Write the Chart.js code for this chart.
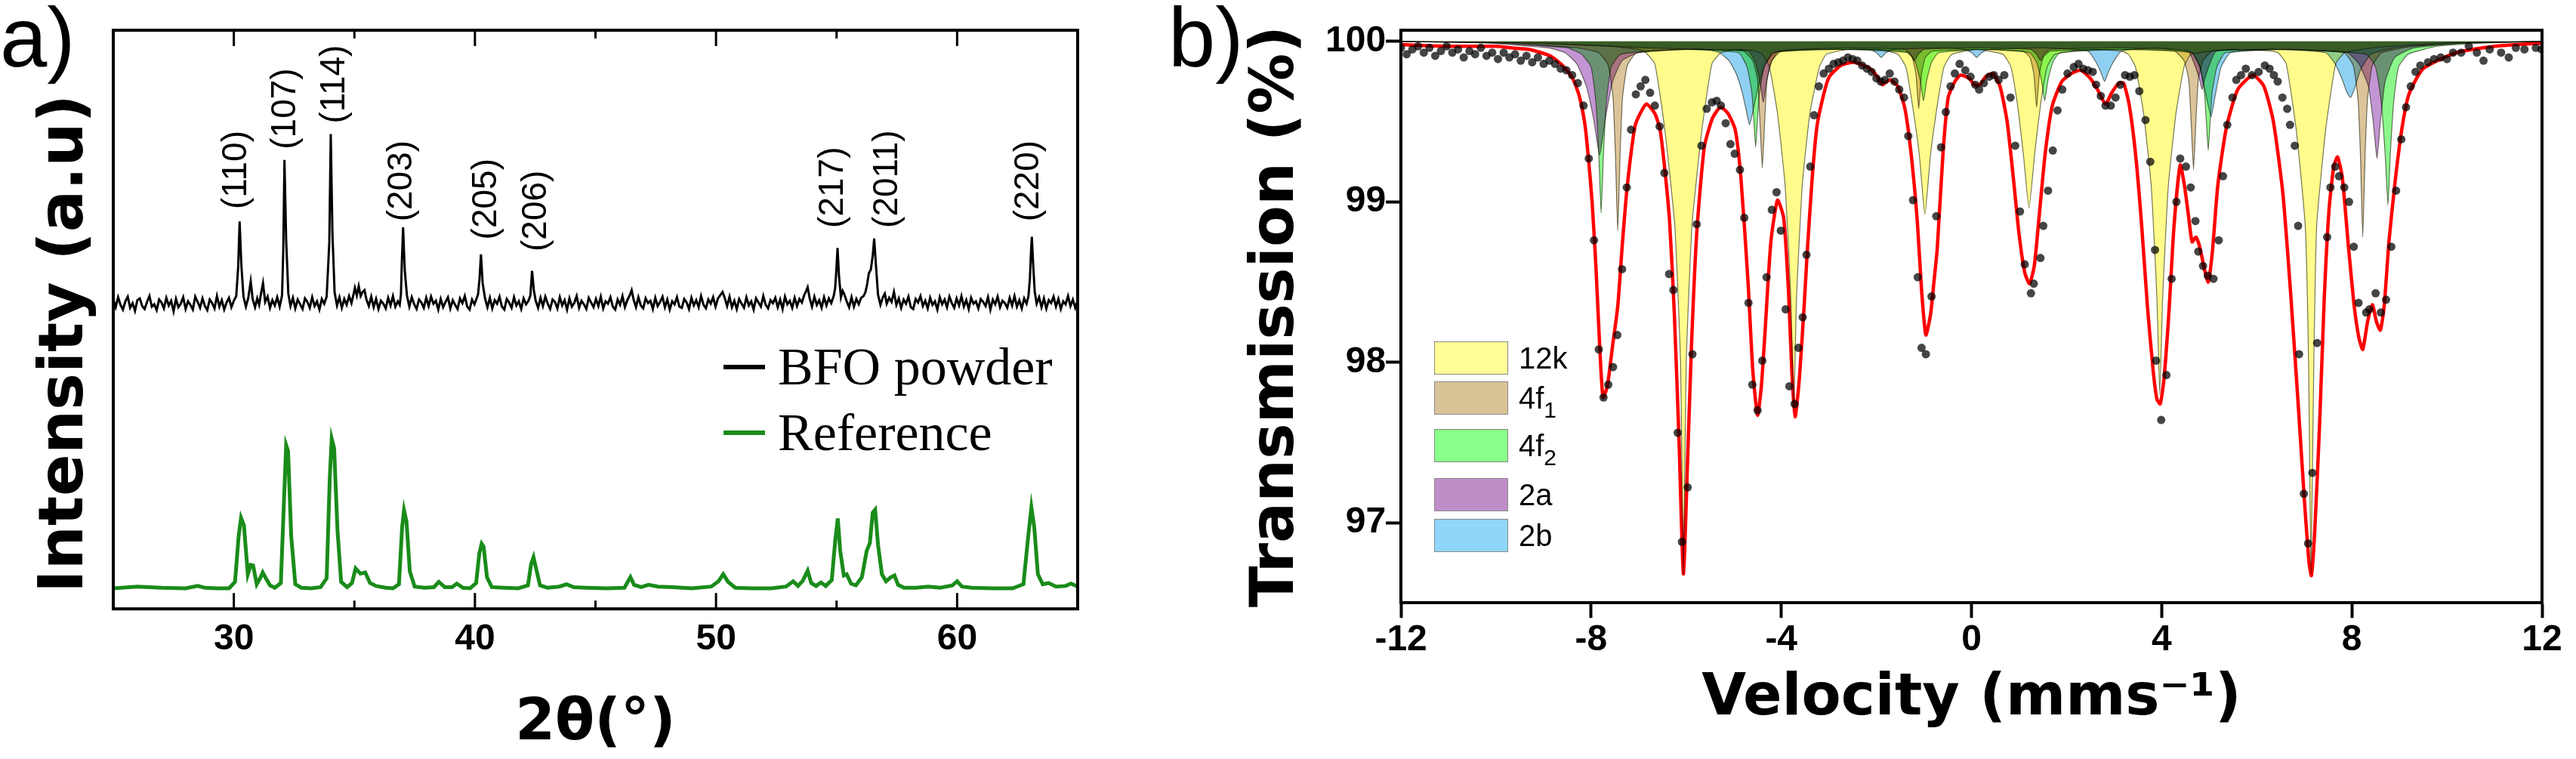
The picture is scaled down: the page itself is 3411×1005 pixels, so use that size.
<!DOCTYPE html>
<html>
<head>
  <meta charset="utf-8">
  <title>XRD pattern and Mössbauer spectrum</title>
  <script src="https://cdn.jsdelivr.net/npm/chart.js"></script>
  <style>
    body { margin: 0; background: #fff; }
    #page { position: relative; width: 3411px; height: 1005px; overflow: hidden; font-family: "Liberation Sans", Arial, sans-serif; color: #000; }
    canvas { position: absolute; top: 0; }
    #xrd { left: 0; }
    #moss { left: 1560px; }
    .tag { position: absolute; top: -12px; font-size: 112px; line-height: 1.1; }
    .xleg { position: absolute; left: 958px; height: 80px; display: flex; align-items: center; font-family: "Liberation Serif", "Times New Roman", serif; font-size: 70px; white-space: nowrap; }
    .xleg span { display: inline-block; width: 55px; height: 6px; margin-right: 17px; }
    .mbox { position: absolute; left: 1899px; width: 96px; height: 42px; border: 1.5px solid #8a8a8a; }
    .mlab { position: absolute; left: 2011px; height: 44px; line-height: 44px; font-size: 40px; }
    .mlab sub { font-size: 30px; vertical-align: -12px; line-height: 0; }
  </style>
</head>
<body>
<div id="page">
  <canvas id="xrd" width="1500" height="1005"></canvas>
  <canvas id="moss" width="1851" height="1005"></canvas>
  <div class="tag" style="left:0">a)</div>
  <div class="tag" style="left:1547px">b)</div>
  <div class="xleg" style="top:446px"><span style="background:#000"></span>BFO powder</div>
  <div class="xleg" style="top:533px"><span style="background:#1a8c1a"></span>Reference</div>
  <div class="mbox" style="top:452px;background:#fffd96"></div><div class="mlab" style="top:452px">12k</div>
  <div class="mbox" style="top:505px;background:#d8c497"></div><div class="mlab" style="top:505px">4f<sub>1</sub></div>
  <div class="mbox" style="top:568px;background:#88ff88"></div><div class="mlab" style="top:568px">4f<sub>2</sub></div>
  <div class="mbox" style="top:633px;background:#bf8ec8"></div><div class="mlab" style="top:633px">2a</div>
  <div class="mbox" style="top:687px;background:#8fd6fa"></div><div class="mlab" style="top:687px">2b</div>
</div>
<script>
// ---- panel a: XRD, [2theta, intensity a.u.] ----
const bfoScan = [
  [25.0,54.4],[25.1,53.0],[25.2,54.7],[25.3,53.4],[25.4,52.6],[25.5,54.0],[25.6,54.8],[25.7,52.9],[25.8,53.7],[25.9,52.4],
  [26.0,54.2],[26.1,54.5],[26.2,53.2],[26.3,52.7],[26.4,53.9],[26.5,54.9],[26.6,53.1],[26.7,53.5],[26.8,52.5],[26.9,54.3],
  [27.0,53.8],[27.1,52.8],[27.2,54.6],[27.3,53.3],[27.4,54.1],[27.5,52.3],[27.6,54.4],[27.7,53.0],[27.8,53.6],[27.9,54.7],
  [28.0,52.7],[28.1,54.0],[28.2,53.4],[28.3,52.6],[28.4,54.8],[28.5,53.9],[28.6,52.9],[28.7,54.5],[28.8,53.2],[28.9,52.5],
  [29.0,54.3],[29.1,53.7],[29.2,52.8],[29.3,54.9],[29.4,53.1],[29.5,54.2],[29.6,52.6],[29.7,53.8],[29.8,54.6],[29.9,53.0],
  [30.0,54.1],[30.1,54.9],[30.18,59.8],[30.24,67.6],[30.31,60.3],[30.4,54.8],[30.5,53.1],[30.6,54.6],[30.7,57.4],[30.78,54.4],
  [30.88,53.0],[30.97,54.5],[31.05,53.4],[31.14,55.6],[31.21,57.1],[31.3,53.9],[31.4,54.8],[31.5,52.9],[31.6,54.2],[31.7,53.3],
  [31.8,54.7],[31.9,53.1],[32.0,55.0],[32.05,62.5],[32.1,78.1],[32.17,64.5],[32.26,55.3],[32.35,53.2],[32.45,54.6],[32.55,52.8],
  [32.65,54.3],[32.75,53.5],[32.85,52.7],[32.95,54.5],[33.05,53.9],[33.15,52.9],[33.25,54.7],[33.35,53.2],[33.45,54.0],[33.55,52.6],
  [33.65,54.4],[33.75,53.6],[33.85,54.8],[33.96,64.0],[34.02,82.5],[34.09,65.5],[34.18,55.5],[34.28,53.3],[34.38,54.7],[34.48,52.9],
  [34.58,54.4],[34.68,53.4],[34.78,54.9],[34.88,53.7],[34.96,55.1],[35.02,56.3],[35.1,55.0],[35.18,56.6],[35.26,54.9],[35.34,55.6],
  [35.42,55.9],[35.5,54.3],[35.6,53.2],[35.7,54.8],[35.8,53.0],[35.9,54.4],[36.0,52.7],[36.1,54.1],[36.2,53.6],[36.3,52.8],
  [36.4,54.6],[36.5,53.3],[36.6,54.9],[36.7,53.1],[36.8,54.0],[36.88,53.4],[36.93,55.1],[36.97,60.8],[37.02,66.6],[37.09,59.3],
  [37.18,55.0],[37.28,53.1],[37.38,54.7],[37.48,53.5],[37.58,52.7],[37.68,54.3],[37.78,53.8],[37.88,52.9],[37.98,54.6],[38.08,53.2],
  [38.18,54.8],[38.28,53.6],[38.38,54.1],[38.48,52.6],[38.58,54.4],[38.68,53.0],[38.78,53.9],[38.88,54.7],[38.98,52.8],[39.08,54.2],
  [39.18,53.4],[39.28,52.7],[39.38,54.5],[39.48,53.7],[39.58,54.9],[39.68,53.1],[39.78,52.6],[39.88,54.3],[39.98,53.5],[40.06,54.4],
  [40.13,55.2],[40.19,57.8],[40.25,62.0],[40.32,57.1],[40.42,54.5],[40.52,53.0],[40.62,54.6],[40.72,52.8],[40.82,54.2],[40.92,53.6],
  [41.02,54.8],[41.12,53.1],[41.22,52.6],[41.32,54.4],[41.42,53.8],[41.52,52.9],[41.62,54.7],[41.72,53.3],[41.82,54.0],[41.92,52.7],
  [42.02,54.5],[42.12,53.5],[42.22,54.1],[42.3,55.0],[42.37,59.2],[42.44,56.0],[42.52,54.1],[42.62,52.9],[42.72,54.6],[42.82,53.2],
  [42.92,54.8],[43.02,53.6],[43.12,52.7],[43.22,54.3],[43.32,53.9],[43.42,52.8],[43.52,54.7],[43.62,53.3],[43.72,54.2],[43.82,52.6],
  [43.92,54.5],[44.02,53.1],[44.12,53.7],[44.22,54.9],[44.32,52.9],[44.42,54.1],[44.52,53.5],[44.62,52.7],[44.72,54.6],[44.82,53.8],
  [44.92,53.0],[45.02,54.4],[45.12,53.2],[45.22,54.8],[45.32,52.8],[45.42,54.0],[45.52,53.6],[45.62,54.7],[45.72,53.1],[45.82,52.6],
  [45.92,54.3],[46.02,53.4],[46.12,54.9],[46.22,53.0],[46.32,54.2],[46.42,55.0],[46.5,55.9],[46.58,54.3],[46.68,53.0],[46.78,54.7],
  [46.88,53.3],[46.98,52.8],[47.08,54.5],[47.18,53.7],[47.28,54.1],[47.38,52.7],[47.48,54.6],[47.58,53.2],[47.68,53.9],[47.78,54.8],
  [47.88,53.0],[47.98,54.3],[48.08,52.6],[48.18,54.0],[48.28,53.5],[48.38,54.7],[48.48,53.1],[48.58,52.9],[48.68,54.4],[48.78,53.8],
  [48.88,52.7],[48.98,54.6],[49.08,53.3],[49.18,54.2],[49.28,53.0],[49.38,54.9],[49.48,53.4],[49.58,52.8],[49.68,54.3],[49.78,53.6],
  [49.88,54.7],[49.98,53.1],[50.08,54.5],[50.17,55.0],[50.27,55.6],[50.36,54.6],[50.46,53.2],[50.56,54.8],[50.66,53.0],[50.76,54.1],
  [50.86,52.7],[50.96,54.4],[51.06,53.6],[51.16,52.9],[51.26,54.7],[51.36,53.3],[51.46,54.0],[51.56,52.6],[51.66,54.5],[51.76,53.8],
  [51.86,53.1],[51.96,54.9],[52.06,53.4],[52.16,52.8],[52.26,54.2],[52.36,53.7],[52.46,54.6],[52.56,53.0],[52.66,54.3],[52.76,52.7],
  [52.86,54.8],[52.96,53.5],[53.06,54.1],[53.16,52.9],[53.26,54.6],[53.36,53.2],[53.46,54.4],[53.56,53.8],[53.66,55.1],[53.74,55.8],
  [53.8,56.4],[53.88,54.6],[53.98,53.1],[54.08,54.8],[54.18,53.4],[54.28,54.2],[54.38,52.9],[54.48,54.7],[54.58,53.3],[54.68,54.5],
  [54.78,53.7],[54.88,54.9],[54.94,56.2],[54.99,59.3],[55.04,63.1],[55.1,58.3],[55.18,54.7],[55.25,55.8],[55.32,55.2],[55.42,54.0],
  [55.52,53.0],[55.62,54.7],[55.72,53.1],[55.82,54.4],[55.92,53.5],[56.02,54.6],[56.12,54.9],[56.2,55.6],[56.27,57.0],[56.34,58.8],
  [56.42,59.4],[56.5,61.8],[56.56,64.7],[56.63,60.3],[56.72,55.1],[56.82,53.4],[56.92,54.7],[57.0,55.3],[57.08,53.6],[57.18,54.6],
  [57.28,53.9],[57.38,55.6],[57.48,53.4],[57.58,54.5],[57.68,52.9],[57.78,54.3],[57.88,53.6],[57.98,54.8],[58.08,53.0],[58.18,52.7],
  [58.28,54.4],[58.38,53.8],[58.48,54.9],[58.58,53.2],[58.68,54.1],[58.78,52.8],[58.88,54.6],[58.98,53.4],[59.08,54.0],[59.18,52.6],
  [59.28,54.7],[59.38,53.5],[59.48,54.3],[59.58,53.0],[59.68,54.8],[59.78,53.7],[59.88,52.9],[59.98,54.5],[60.08,53.3],[60.18,54.9],
  [60.28,53.1],[60.38,54.2],[60.48,52.7],[60.58,54.6],[60.68,53.6],[60.78,54.0],[60.88,52.8],[60.98,54.4],[61.08,53.9],[61.18,53.2],
  [61.28,54.7],[61.38,52.6],[61.48,54.3],[61.58,53.5],[61.68,54.8],[61.78,53.0],[61.88,54.1],[61.98,53.7],[62.08,52.9],[62.18,54.6],
  [62.28,53.3],[62.38,54.9],[62.48,53.1],[62.58,54.2],[62.68,52.8],[62.78,54.5],[62.88,53.6],[62.96,54.9],[63.02,58.0],[63.07,63.0],
  [63.1,65.0],[63.15,60.5],[63.22,55.6],[63.3,53.6],[63.4,54.7],[63.5,53.0],[63.6,54.5],[63.7,52.8],[63.8,54.2],[63.9,53.7],
  [64.0,54.8],[64.1,53.1],[64.2,54.4],[64.3,52.7],[64.4,54.0],[64.5,53.5],[64.6,54.9],[64.7,53.2],[64.8,54.3],[64.9,52.9],
  [65.0,54.1]
];
const referenceScan = [
  [25.0,5.1],[26.0,5.4],[27.0,5.2],[28.0,5.1],[28.5,5.5],[28.8,5.2],[29.3,5.1],[29.8,5.1],[30.05,6.2],[30.2,14.0],
  [30.3,17.1],[30.42,15.8],[30.58,7.5],[30.7,9.1],[30.8,9.0],[30.95,5.8],[31.1,6.9],[31.2,7.8],[31.33,6.8],[31.5,5.6],
  [31.7,5.2],[31.95,6.0],[32.08,20.0],[32.17,29.5],[32.25,28.5],[32.38,14.0],[32.55,5.8],[32.8,5.2],[33.2,5.1],[33.6,5.3],
  [33.85,6.8],[33.98,24.0],[34.06,30.6],[34.16,29.0],[34.3,15.0],[34.45,6.2],[34.7,5.3],[34.9,6.0],[35.05,8.5],[35.25,7.6],
  [35.45,7.8],[35.65,6.0],[35.9,5.5],[36.3,5.2],[36.6,5.1],[36.85,5.8],[36.98,15.5],[37.06,18.4],[37.16,16.5],[37.3,8.0],
  [37.5,5.4],[37.9,5.2],[38.3,5.3],[38.5,6.2],[38.75,5.3],[39.05,5.3],[39.25,5.9],[39.5,5.2],[39.8,5.1],[40.05,6.0],
  [40.18,11.0],[40.28,12.7],[40.36,12.2],[40.5,7.0],[40.7,5.3],[41.2,5.2],[41.8,5.1],[42.2,5.6],[42.33,9.2],[42.43,10.4],
  [42.53,8.6],[42.7,5.6],[43.0,5.2],[43.5,5.4],[43.8,5.8],[44.1,5.3],[44.6,5.2],[45.5,5.1],[46.2,5.2],[46.45,7.0],
  [46.6,5.7],[46.9,5.3],[47.2,5.7],[47.6,5.4],[48.2,5.3],[49.0,5.1],[49.8,5.4],[50.1,6.3],[50.3,7.5],[50.5,6.2],
  [50.8,5.2],[51.5,5.1],[52.3,5.1],[52.9,5.4],[53.2,6.3],[53.4,5.5],[53.6,6.4],[53.8,8.1],[53.95,6.0],[54.15,5.5],
  [54.35,6.1],[54.55,5.5],[54.8,6.5],[54.95,13.5],[55.05,17.0],[55.15,11.5],[55.3,7.3],[55.42,7.5],[55.6,5.9],[55.8,5.6],
  [56.05,7.0],[56.25,11.5],[56.38,12.8],[56.5,18.0],[56.6,18.5],[56.72,12.5],[56.88,7.5],[57.05,6.3],[57.25,7.0],[57.4,7.3],
  [57.55,5.7],[57.8,5.2],[58.3,5.2],[58.8,5.4],[59.3,5.2],[59.8,5.6],[60.0,6.3],[60.2,5.4],[60.6,5.2],[61.5,5.1],
  [62.3,5.1],[62.75,5.8],[62.95,14.0],[63.08,18.9],[63.2,15.5],[63.35,7.5],[63.55,5.8],[63.8,6.0],[64.1,5.4],[64.5,5.5],
  [64.72,5.9],[65.0,5.4]
];
// Miller indices, the angle they sit over, intensity level where each label starts
const hklLabels = ['(110)', '(107)', '(114)', '(203)', '(205)', '(206)', '(217)', '(2011)', '(220)'];
const hklAngle  = [30.1, 32.15, 34.18, 36.97, 40.48, 42.55, 54.87, 57.13, 62.96];
const hklBase   = [69.7, 79.9, 84.3, 67.6, 64.5, 62.5, 66.5, 66.5, 67.6];

// ---- panel b: Mossbauer, [velocity mm/s, transmission %] ----
const measured = [
  [-12.0,99.96],[-11.88,99.92],[-11.76,99.95],[-11.64,99.97],[-11.52,99.93],[-11.4,99.96],[-11.28,99.91],[-11.16,99.94],
  [-11.04,99.97],[-10.92,99.93],[-10.8,99.95],[-10.68,99.9],[-10.56,99.94],[-10.44,99.92],[-10.32,99.96],[-10.2,99.91],
  [-10.08,99.93],[-9.96,99.89],[-9.84,99.93],[-9.72,99.9],[-9.6,99.92],[-9.48,99.88],[-9.36,99.91],[-9.24,99.87],
  [-9.12,99.9],[-9.0,99.86],[-8.88,99.88],[-8.76,99.86],[-8.64,99.83],[-8.52,99.82],[-8.4,99.79],[-8.28,99.74],
  [-8.16,99.6],[-8.05,99.27],[-7.94,98.76],[-7.84,98.08],[-7.74,97.78],[-7.64,97.86],[-7.54,97.97],[-7.45,98.17],
  [-7.35,98.58],[-7.25,99.09],[-7.16,99.45],[-7.06,99.67],[-6.96,99.72],[-6.86,99.76],[-6.76,99.68],[-6.66,99.6],
  [-6.56,99.47],[-6.46,99.18],[-6.36,98.55],[-6.27,98.45],[-6.18,97.56],[-6.09,96.88],[-5.97,97.22],[-5.87,98.05],
  [-5.78,98.86],[-5.68,99.35],[-5.57,99.58],[-5.46,99.62],[-5.36,99.63],[-5.27,99.6],[-5.17,99.49],[-5.07,99.36],
  [-4.98,99.3],[-4.87,99.2],[-4.78,98.9],[-4.69,98.37],[-4.61,97.86],[-4.5,97.7],[-4.4,98.01],[-4.31,98.53],
  [-4.2,98.95],[-4.1,99.06],[-4.01,98.82],[-3.91,98.33],[-3.83,97.85],[-3.72,97.74],[-3.64,98.09],[-3.55,98.28],
  [-3.47,98.67],[-3.39,99.22],[-3.31,99.54],[-3.21,99.72],[-3.11,99.8],[-3.0,99.83],[-2.9,99.86],[-2.8,99.87],
  [-2.7,99.88],[-2.6,99.9],[-2.5,99.89],[-2.4,99.88],[-2.3,99.85],[-2.2,99.83],[-2.1,99.81],[-2.0,99.77],
  [-1.91,99.75],[-1.82,99.76],[-1.72,99.8],[-1.62,99.75],[-1.52,99.7],[-1.42,99.65],[-1.33,99.41],[-1.23,99.01],
  [-1.13,98.53],[-1.05,98.09],[-0.96,98.05],[-0.84,98.41],[-0.74,98.91],[-0.64,99.34],[-0.54,99.56],[-0.44,99.72],
  [-0.35,99.8],[-0.25,99.86],[-0.13,99.82],[-0.02,99.78],[0.08,99.73],[0.16,99.7],[0.26,99.74],[0.37,99.78],
  [0.47,99.79],[0.57,99.76],[0.69,99.79],[0.82,99.65],[0.92,99.35],[1.02,98.94],[1.12,98.61],[1.25,98.43],
  [1.31,98.49],[1.45,98.65],[1.51,98.85],[1.61,99.07],[1.71,99.32],[1.81,99.57],[1.91,99.7],[2.02,99.8],
  [2.15,99.84],[2.25,99.86],[2.35,99.83],[2.45,99.82],[2.55,99.81],[2.62,99.73],[2.72,99.66],[2.82,99.6],
  [2.93,99.6],[3.03,99.65],[3.13,99.73],[3.23,99.79],[3.33,99.78],[3.43,99.79],[3.53,99.69],[3.66,99.51],
  [3.76,99.25],[3.86,98.7],[3.88,98.01],[3.99,97.64],[4.1,97.92],[4.21,98.52],[4.31,99.0],[4.39,99.27],
  [4.51,99.22],[4.61,99.09],[4.71,98.88],[4.77,98.69],[4.87,98.6],[4.97,98.54],[5.09,98.52],[5.2,98.76],
  [5.29,99.16],[5.38,99.48],[5.49,99.65],[5.57,99.76],[5.67,99.79],[5.77,99.83],[5.9,99.79],[6.04,99.81],
  [6.17,99.85],[6.27,99.83],[6.36,99.79],[6.44,99.75],[6.54,99.65],[6.64,99.58],[6.7,99.48],[6.8,99.35],
  [6.87,98.85],[6.89,98.05],[6.99,97.18],[7.08,96.87],[7.17,97.31],[7.27,98.12],[7.48,98.78],[7.55,99.09],
  [7.65,99.22],[7.73,99.16],[7.84,99.09],[7.94,99.0],[8.04,98.72],[8.14,98.37],[8.3,98.31],[8.37,98.33],
  [8.5,98.43],[8.61,98.31],[8.72,98.39],[8.83,98.72],[8.93,99.07],[9.04,99.39],[9.14,99.59],[9.24,99.72],
  [9.34,99.81],[9.44,99.85],[9.6,99.87],[9.73,99.89],[9.87,99.9],[10.0,99.89],[10.13,99.93],[10.3,99.93],
  [10.46,99.97],[10.63,99.93],[10.77,99.88],[10.9,99.95],[11.14,99.93],[11.3,99.9],[11.45,99.96],[11.63,99.95],
  [11.87,99.96],[11.99,99.95]
];
const fitTotal = [
  [-12.0,99.98],[-11.0,99.97],[-10.0,99.97],[-9.7,99.96],[-9.3,99.95],[-8.86,99.91],[-8.6,99.85],[-8.39,99.77],
  [-8.25,99.66],[-8.13,99.48],[-8.05,99.25],[-7.98,99.0],[-7.9,98.6],[-7.82,98.1],[-7.75,97.78],[-7.66,97.85],
  [-7.55,98.1],[-7.44,98.35],[-7.34,98.75],[-7.24,99.1],[-7.07,99.48],[-6.84,99.61],[-6.66,99.55],[-6.55,99.45],
  [-6.45,99.2],[-6.35,98.88],[-6.25,98.3],[-6.15,97.5],[-6.06,96.68],[-5.97,97.4],[-5.89,98.1],[-5.78,98.8],
  [-5.62,99.34],[-5.45,99.52],[-5.28,99.59],[-5.12,99.55],[-4.97,99.45],[-4.85,99.15],[-4.7,98.5],[-4.6,97.95],
  [-4.5,97.67],[-4.42,97.85],[-4.34,98.2],[-4.22,98.75],[-4.08,99.01],[-3.95,98.9],[-3.85,98.45],[-3.78,97.95],
  [-3.71,97.66],[-3.62,97.9],[-3.52,98.35],[-3.45,98.71],[-3.35,99.15],[-3.25,99.47],[-3.1,99.68],[-2.99,99.78],
  [-2.75,99.85],[-2.47,99.87],[-2.13,99.83],[-1.98,99.78],[-1.87,99.73],[-1.78,99.75],[-1.7,99.76],[-1.55,99.72],
  [-1.4,99.58],[-1.27,99.3],[-1.14,98.88],[-1.05,98.45],[-0.96,98.17],[-0.86,98.3],[-0.79,98.5],[-0.72,98.71],
  [-0.6,99.3],[-0.49,99.65],[-0.35,99.75],[-0.23,99.79],[-0.05,99.77],[0.06,99.73],[0.17,99.73],[0.3,99.78],
  [0.45,99.8],[0.6,99.72],[0.75,99.5],[0.88,99.15],[1.0,98.8],[1.12,98.56],[1.22,98.49],[1.32,98.6],
  [1.42,98.9],[1.55,99.3],[1.7,99.6],[1.9,99.75],[2.1,99.8],[2.3,99.82],[2.5,99.77],[2.65,99.7],
  [2.82,99.61],[2.95,99.68],[3.1,99.74],[3.2,99.74],[3.32,99.6],[3.45,99.3],[3.58,98.85],[3.7,98.35],
  [3.82,97.95],[3.9,97.77],[3.97,97.74],[4.05,97.9],[4.15,98.3],[4.26,98.85],[4.39,99.23],[4.48,99.1],
  [4.57,98.9],[4.64,98.75],[4.72,98.78],[4.8,98.72],[4.9,98.58],[4.98,98.5],[5.07,98.7],[5.18,99.1],
  [5.36,99.46],[5.6,99.7],[5.92,99.79],[6.15,99.72],[6.35,99.5],[6.55,99.05],[6.72,98.4],[6.88,97.7],
  [7.0,97.15],[7.1,96.75],[7.15,96.67],[7.22,96.95],[7.32,97.6],[7.42,98.4],[7.52,98.95],[7.62,99.22],
  [7.7,99.28],[7.8,99.15],[7.92,98.75],[8.05,98.35],[8.15,98.15],[8.23,98.08],[8.33,98.25],[8.43,98.36],
  [8.52,98.25],[8.6,98.2],[8.68,98.35],[8.78,98.75],[8.9,99.1],[9.05,99.45],[9.2,99.67],[9.5,99.83],
  [10.2,99.93],[11.0,99.97],[12.0,99.99]
];
const site12k = [
  [-12,100],[-9.5,99.99],[-7.6,99.97],[-7.0,99.95],[-6.85,99.93],[-6.66,99.86],[-6.45,99.45],[-6.24,98.85],[-6.12,98.0],
  [-6.06,96.68],[-6.0,98.0],[-5.88,98.85],[-5.67,99.45],[-5.46,99.86],[-5.27,99.93],[-4.9,99.95],
  [-4.55,99.94],[-4.4,99.92],[-4.25,99.84],[-4.08,99.55],[-3.92,99.1],[-3.8,98.4],[-3.74,97.7],[-3.68,98.4],
  [-3.56,99.1],[-3.4,99.55],[-3.2,99.84],[-3.05,99.92],[-2.6,99.95],
  [-1.9,99.95],[-1.55,99.92],[-1.38,99.84],[-1.25,99.62],[-1.1,99.3],[-0.98,98.92],[-0.86,99.3],[-0.71,99.62],
  [-0.58,99.84],[-0.41,99.92],[0.1,99.95],
  [0.66,99.92],[0.83,99.84],[0.96,99.62],[1.09,99.3],[1.21,98.96],[1.33,99.3],[1.46,99.62],
  [1.59,99.84],[1.76,99.92],[2.5,99.95],
  [3.15,99.94],[3.3,99.92],[3.45,99.84],[3.62,99.55],[3.78,99.1],[3.9,98.4],[3.96,97.8],[4.02,98.4],
  [4.14,99.1],[4.3,99.55],[4.47,99.84],[4.62,99.92],[5.4,99.95],
  [6.3,99.94],[6.45,99.93],[6.62,99.86],[6.83,99.45],[7.02,98.85],[7.09,98.0],[7.14,96.68],[7.2,98.0],
  [7.26,98.85],[7.45,99.45],[7.66,99.86],[7.85,99.93],[8.2,99.95],[8.8,99.97],[10.0,99.99],[12,100]
];
const site4f1 = [
  [-12,100],[-9.8,99.99],[-8.3,99.96],[-7.84,99.93],[-7.64,99.85],[-7.54,99.65],[-7.49,99.3],[-7.44,98.82],[-7.39,99.3],
  [-7.34,99.65],[-7.24,99.85],[-7.04,99.93],[-6.0,99.95],
  [-4.8,99.94],[-4.6,99.88],[-4.5,99.76],[-4.45,99.5],[-4.4,99.21],[-4.35,99.5],[-4.3,99.76],
  [-4.2,99.88],[-4.0,99.94],[-2.5,99.95],
  [-1.4,99.94],[-1.25,99.9],[-1.17,99.8],[-1.11,99.58],[-1.05,99.8],[-0.97,99.9],[-0.82,99.94],[0.1,99.95],
  [1.08,99.94],[1.23,99.9],[1.31,99.8],[1.37,99.59],[1.43,99.8],[1.51,99.9],[1.66,99.94],[3.0,99.95],
  [4.27,99.94],[4.47,99.88],[4.57,99.76],[4.62,99.5],[4.67,99.2],[4.72,99.5],[4.77,99.76],
  [4.87,99.88],[5.07,99.94],[6.4,99.95],
  [7.83,99.93],[8.03,99.85],[8.13,99.64],[8.18,99.3],[8.23,98.78],[8.28,99.3],[8.33,99.64],
  [8.43,99.85],[8.63,99.93],[9.3,99.97],[10.4,99.99],[12,100]
];
const site4f2 = [
  [-12,100],[-10.0,99.99],[-8.5,99.96],[-8.2,99.92],[-8.0,99.84],[-7.9,99.62],[-7.84,99.3],[-7.79,98.93],[-7.74,99.3],
  [-7.68,99.62],[-7.58,99.84],[-7.38,99.92],[-6.2,99.95],
  [-4.9,99.93],[-4.72,99.84],[-4.62,99.68],[-4.58,99.52],[-4.54,99.34],[-4.5,99.52],[-4.46,99.68],
  [-4.36,99.84],[-4.18,99.93],[-2.8,99.95],
  [-1.33,99.93],[-1.18,99.87],[-1.08,99.76],[-1.01,99.63],[-0.94,99.76],[-0.84,99.87],[-0.69,99.93],[0.3,99.95],
  [1.22,99.93],[1.37,99.87],[1.47,99.76],[1.54,99.63],[1.61,99.76],[1.71,99.87],[1.86,99.93],[3.2,99.95],
  [4.62,99.93],[4.8,99.84],[4.9,99.68],[4.94,99.5],[4.98,99.32],[5.02,99.5],[5.06,99.68],
  [5.16,99.84],[5.34,99.93],[6.8,99.95],
  [8.3,99.92],[8.5,99.84],[8.62,99.62],[8.7,99.3],[8.76,98.98],[8.81,99.3],[8.88,99.62],
  [8.98,99.84],[9.18,99.92],[9.8,99.97],[10.8,99.99],[12,100]
];
const site2a = [
  [-12,100],[-10.2,99.99],[-8.9,99.96],[-8.55,99.93],[-8.3,99.86],[-8.1,99.72],[-7.95,99.52],[-7.82,99.29],[-7.7,99.52],
  [-7.55,99.75],[-7.35,99.88],[-7.0,99.93],[-6.0,99.95],
  [-4.7,99.94],[-4.55,99.87],[-4.45,99.75],[-4.38,99.62],[-4.31,99.75],[-4.21,99.87],[-4.06,99.94],[-2.6,99.96],
  [-1.4,99.95],[-1.28,99.92],[-1.2,99.88],[-1.12,99.92],[-1.0,99.95],[0.2,99.96],
  [1.25,99.95],[1.37,99.92],[1.45,99.88],[1.53,99.92],[1.65,99.95],[3.1,99.96],
  [4.55,99.94],[4.7,99.85],[4.8,99.76],[4.85,99.7],[4.9,99.76],[5.0,99.85],[5.15,99.94],[6.6,99.95],
  [7.9,99.93],[8.15,99.86],[8.35,99.72],[8.45,99.5],[8.53,99.27],[8.6,99.5],[8.7,99.75],
  [8.9,99.9],[9.3,99.96],[10.4,99.99],[12,100]
];
const site2b = [
  [-12,100],[-9.0,99.99],[-6.8,99.96],[-5.6,99.95],[-5.3,99.93],[-5.1,99.88],[-4.95,99.8],[-4.82,99.68],[-4.73,99.56],
  [-4.67,99.48],[-4.6,99.56],[-4.5,99.7],[-4.35,99.85],[-4.15,99.93],[-3.5,99.95],
  [-2.15,99.95],[-2.0,99.93],[-1.9,99.9],[-1.8,99.93],[-1.65,99.95],[-0.6,99.96],
  [-0.15,99.95],[0.01,99.93],[0.11,99.9],[0.21,99.93],[0.36,99.95],[1.5,99.96],
  [2.45,99.94],[2.62,99.87],[2.72,99.81],[2.8,99.75],[2.88,99.81],[2.98,99.87],[3.15,99.94],[3.9,99.96],
  [4.65,99.93],[4.82,99.83],[4.93,99.67],[5.04,99.53],[5.13,99.67],[5.25,99.84],[5.45,99.93],[6.5,99.95],
  [7.45,99.93],[7.65,99.86],[7.8,99.76],[7.9,99.68],[7.97,99.65],[8.05,99.7],[8.18,99.82],
  [8.4,99.92],[8.9,99.96],[10.0,99.99],[12,100]
];
const transTicks = [97, 98, 99, 100];

const pts = arr => arr.map(([x, y]) => ({x, y}));
const tickFont = {family: '"Liberation Sans", Arial, sans-serif', size: 48, weight: 'bold'};
const titleFont = size => ({family: '"DejaVu Sans", sans-serif', size, weight: 'bold'});

// box, inward ticks, hkl labels and the y title for panel a
const xrdFrame = {
  id: 'xrdFrame',
  afterDraw(chart) {
    const {ctx, chartArea: a, scales: {x, y}} = chart;
    ctx.save();
    ctx.strokeStyle = '#000';
    ctx.lineWidth = 4;
    ctx.strokeRect(a.left, a.top, a.right - a.left, a.bottom - a.top);
    ctx.lineWidth = 3;
    x.ticks.forEach(t => {
      if (t.value <= x.min || t.value >= x.max) return;
      const px = x.getPixelForValue(t.value);
      const len = t.value % 10 === 0 ? 21 : 11;
      ctx.beginPath();
      ctx.moveTo(px, a.bottom); ctx.lineTo(px, a.bottom - len);
      ctx.moveTo(px, a.top); ctx.lineTo(px, a.top + len);
      ctx.stroke();
    });
    ctx.fillStyle = '#000';
    ctx.font = '46px "Liberation Sans", Arial, sans-serif';
    ctx.textAlign = 'left';
    ctx.textBaseline = 'middle';
    hklLabels.forEach((lab, i) => {
      ctx.save();
      ctx.translate(x.getPixelForValue(hklAngle[i]), y.getPixelForValue(hklBase[i]));
      ctx.rotate(-Math.PI / 2);
      ctx.fillText(lab, 0, 0);
      ctx.restore();
    });
    // axis title sits low in the original, so it is placed by hand
    ctx.font = 'bold 82px "DejaVu Sans", sans-serif';
    ctx.textAlign = 'center';
    ctx.translate(88, 455);
    ctx.rotate(-Math.PI / 2);
    ctx.fillText('Intensity (a.u)', 0, 0);
    ctx.restore();
  }
};

new Chart(document.getElementById('xrd'), {
  type: 'line',
  data: {
    datasets: [
      {label: 'BFO powder', data: pts(bfoScan), borderColor: '#000', borderWidth: 3, pointRadius: 0, tension: 0},
      {label: 'Reference', data: pts(referenceScan), borderColor: '#1a8c1a', borderWidth: 5, pointRadius: 0, tension: 0}
    ]
  },
  options: {
    responsive: false, animation: false, devicePixelRatio: 1,
    layout: {padding: {left: 150, right: 73, top: 40, bottom: 0}},
    plugins: {legend: {display: false}, tooltip: {enabled: false}},
    scales: {
      x: {
        type: 'linear', min: 25, max: 65,
        ticks: {stepSize: 5, autoSkip: false, maxRotation: 0, padding: 12, color: '#000', font: tickFont,
                callback: v => (v % 10 === 0 ? v : '')},
        grid: {display: false, drawTicks: false},
        border: {display: false},
        title: {display: true, text: '2θ(°)', color: '#000', font: titleFont(76), padding: {top: 26, bottom: 0}}
      },
      y: {display: false, min: 1.6, max: 100.2}
    }
  },
  plugins: [xrdFrame]
});

// top/right frame lines, then multiply blending so the overlapping sub-spectra darken
const mossFrame = {
  id: 'mossFrame',
  beforeDatasetsDraw(chart) {
    const {ctx, chartArea: a} = chart;
    ctx.save();
    ctx.strokeStyle = '#000';
    ctx.lineWidth = 4;
    ctx.lineCap = 'square';
    ctx.beginPath();
    ctx.moveTo(a.left, a.top); ctx.lineTo(a.right, a.top); ctx.lineTo(a.right, a.bottom);
    ctx.stroke();
    ctx.restore();
    ctx.globalCompositeOperation = 'multiply';
  },
  afterDatasetsDraw(chart) {
    chart.ctx.globalCompositeOperation = 'source-over';
  }
};

const siteStyle = (label, data, fillColor, order) => ({
  label, data: pts(data), fill: {value: 100}, backgroundColor: fillColor,
  borderColor: 'rgba(60,60,40,0.7)', borderWidth: 1.2, pointRadius: 0, tension: 0.15, order
});

new Chart(document.getElementById('moss'), {
  type: 'line',
  data: {
    datasets: [
      {label: 'fit', data: pts(fitTotal), borderColor: '#ff0000', borderWidth: 4.5, pointRadius: 0, tension: 0.2, fill: false, order: 0},
      siteStyle('12k', site12k, 'rgba(255,252,120,0.85)', 1),
      siteStyle('4f1', site4f1, 'rgba(214,186,136,0.85)', 2),
      siteStyle('4f2', site4f2, 'rgba(110,245,110,0.8)', 3),
      siteStyle('2a', site2a, 'rgba(185,130,205,0.85)', 4),
      siteStyle('2b', site2b, 'rgba(125,200,240,0.85)', 5),
      {label: 'data', data: pts(measured), showLine: false, pointRadius: 5.5, pointBorderWidth: 0,
       pointBackgroundColor: '#454545', order: 10}
    ]
  },
  options: {
    responsive: false, animation: false, devicePixelRatio: 1,
    layout: {padding: {left: 79, right: 45, top: 40, bottom: 33}},
    plugins: {legend: {display: false}, tooltip: {enabled: false}},
    scales: {
      x: {
        type: 'linear', min: -12, max: 12,
        ticks: {stepSize: 4, autoSkip: false, maxRotation: 0, padding: 1, color: '#000', font: tickFont},
        grid: {drawOnChartArea: false, drawTicks: true, tickLength: 20, tickWidth: 4, tickColor: '#000'},
        border: {display: true, width: 4, color: '#000'},
        title: {display: true, text: 'Velocity (mms⁻¹)', color: '#000', font: titleFont(76), padding: {top: 3, bottom: 0}}
      },
      y: {
        min: 96.5, max: 100.07,
        afterBuildTicks: s => { s.ticks = transTicks.map(v => ({value: v})); },
        ticks: {padding: 0, color: '#000', font: tickFont},
        grid: {drawOnChartArea: false, drawTicks: true, tickLength: 20, tickWidth: 4, tickColor: '#000'},
        border: {display: true, width: 4, color: '#000'},
        title: {display: true, text: 'Transmission (%)', color: '#000', font: titleFont(80), padding: {top: 4, bottom: 16}}
      }
    }
  },
  plugins: [mossFrame]
});
</script>
</body>
</html>
